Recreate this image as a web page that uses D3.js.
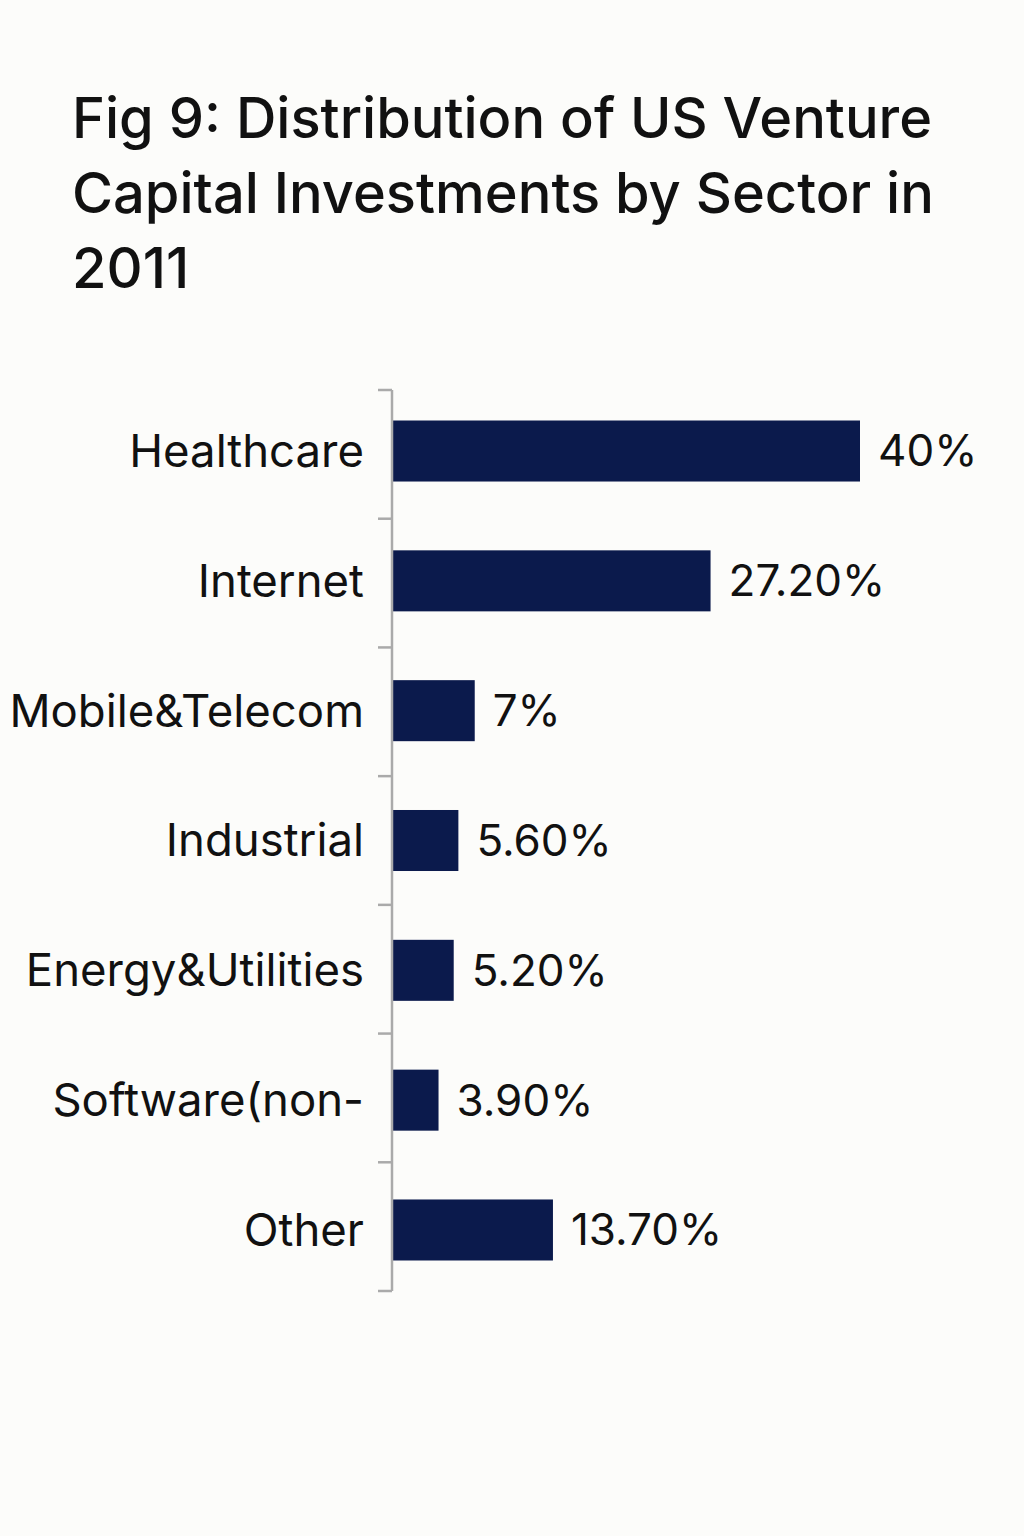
<!DOCTYPE html>
<html>
<head>
<meta charset="utf-8">
<script src="https://cdn.jsdelivr.net/npm/d3@7"></script>
<style>
  html, body { margin: 0; padding: 0; background: #fcfcfa; }
  svg { display: block; }
</style>
</head>
<body>
<svg width="1024" height="1536"></svg>
<script>
// data
const sectors = ["Healthcare", "Internet", "Mobile&Telecom", "Industrial",
                 "Energy&Utilities", "Software(non-", "Other"];
const shares = [40, 27.2, 7, 5.6, 5.2, 3.9, 13.7];
const shareLabels = ["40%", "27.20%", "7%", "5.60%", "5.20%", "3.90%", "13.70%"];
const titleLines = ["Fig 9: Distribution of US Venture",
                    "Capital Investments by Sector in",
                    "2011"];

var svg = d3.select("svg"),
    width = +svg.attr("width"),
    height = +svg.attr("height");

svg.append("rect").attr("width", width).attr("height", height).attr("fill", "#fcfcfa");

// title
svg.append("g").selectAll("text")
    .data(titleLines)
    .enter().append("text")
    .attr("x", 72)
    .attr("y", (d, i) => 138 + i * 75)
    .attr("font-family", "Inter, 'Noto Sans', sans-serif")
    .attr("font-size", 56)
    .attr("font-weight", 500)
    .attr("fill", "#111")
    .text(d => d);

var axisX = 392;
var plotTop = 390, plotBottom = 1291;

var x = d3.scaleLinear()
    .domain([0, 40])
    .range([axisX + 1, 860]);

var y = d3.scaleBand()
    .domain(sectors)
    .range([plotTop, plotBottom])
    .paddingInner(0.53)
    .paddingOuter(0.235);

var rows = sectors.map((s, i) => ({ sector: s, value: shares[i], label: shareLabels[i] }));

// bars
svg.append("g").selectAll("rect")
    .data(rows)
    .enter().append("rect")
    .attr("x", x(0))
    .attr("y", d => y(d.sector))
    .attr("width", d => x(d.value) - x(0))
    .attr("height", y.bandwidth())
    .attr("fill", "#0b1a4c");

// value labels
svg.append("g").selectAll("text")
    .data(rows)
    .enter().append("text")
    .attr("x", d => x(d.value) + 18)
    .attr("y", d => y(d.sector) + y.bandwidth() / 2)
    .attr("dy", "0.35em")
    .attr("font-family", "Inter, 'Noto Sans', sans-serif")
    .attr("font-size", 44)
    .attr("fill", "#111")
    .text(d => d.label);

// category axis: line + ticks between categories
var axisG = svg.append("g").attr("stroke", "#aaaaaa").attr("stroke-width", 2.5);
axisG.append("line")
    .attr("x1", axisX).attr("x2", axisX)
    .attr("y1", plotTop).attr("y2", plotBottom);

var bounds = d3.range(sectors.length + 1)
    .map(i => plotTop + i * (plotBottom - plotTop) / sectors.length);
axisG.selectAll(".tick")
    .data(bounds)
    .enter().append("line")
    .attr("class", "tick")
    .attr("x1", axisX - 14).attr("x2", axisX)
    .attr("y1", d => d).attr("y2", d => d);

// category labels
svg.append("g").selectAll("text")
    .data(rows)
    .enter().append("text")
    .attr("x", 364)
    .attr("y", d => y(d.sector) + y.bandwidth() / 2)
    .attr("dy", "0.35em")
    .attr("text-anchor", "end")
    .attr("font-family", "Inter, 'Noto Sans', sans-serif")
    .attr("font-size", 45.5)
    .attr("fill", "#111")
    .text(d => d.sector);
</script>
</body>
</html>
